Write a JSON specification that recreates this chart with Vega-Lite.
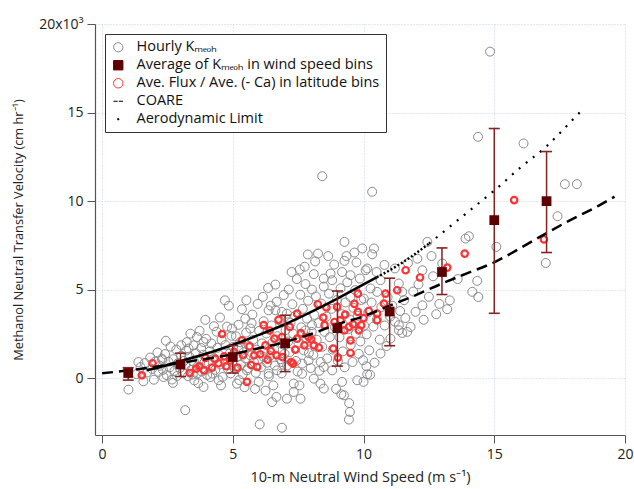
{
  "$schema": "https://vega.github.io/schema/vega-lite/v6.json",
  "autosize": "none",
  "width": 530,
  "height": 411,
  "padding": {"left": 95, "top": 24, "right": 9, "bottom": 54},
  "background": "white",
  "config": {
    "font": "Open Sans",
    "view": {"stroke": null},
    "axis": {
      "labelFont": "Open Sans", "titleFont": "Open Sans",
      "labelFontSize": 14, "titleFontSize": 13.5, "titleFontWeight": "normal",
      "labelColor": "#222", "titleColor": "#222",
      "domainColor": "#555", "tickColor": "#555", "tickSize": 8, "domainWidth": 1.2,
      "gridColor": "#c8c8f5", "gridDash": [1, 2], "gridWidth": 1
    },
    "legend": {"labelFont": "Open Sans", "labelFontSize": 14.5, "labelColor": "#111", "labelLimit": 400}
  },
  "datasets": {
    "gray": [
      {"x":1.01,"y":-0.64},{"x":2.71,"y":-0.26},{"x":2.35,"y":0.07},{"x":2.16,"y":0.36},{"x":2.29,"y":1.11},{"x":3.18,"y":-1.8},{"x":3.31,"y":1.68},{"x":3.5,"y":1.86},{"x":3.63,"y":2.33},{"x":3.88,"y":2.05},{"x":3.63,"y":0.26},{"x":3.88,"y":-0.49},{"x":4.14,"y":0.07},{"x":4.46,"y":-0.11},{"x":4.97,"y":2.81},{"x":5.16,"y":-0.3},{"x":5.22,"y":1.68},{"x":5.48,"y":3.37},{"x":5.52,"y":4.41},{"x":5.54,"y":0.45},{"x":5.67,"y":2.81},{"x":5.99,"y":-0.2},{"x":6.03,"y":-2.6},{"x":6.18,"y":1.2},{"x":6.37,"y":3.84},{"x":6.37,"y":0.26},{"x":6.5,"y":-1.34},{"x":6.63,"y":3.84},{"x":6.63,"y":5.29},{"x":6.67,"y":-1.05},{"x":6.69,"y":0.45},{"x":6.88,"y":3.75},{"x":6.88,"y":0.92},{"x":6.88,"y":-2.79},{"x":7.07,"y":3.65},{"x":7.07,"y":-1.15},{"x":7.14,"y":5.01},{"x":7.33,"y":-0.77},{"x":7.33,"y":-0.3},{"x":7.56,"y":6.14},{"x":7.59,"y":-1.15},{"x":7.65,"y":0.83},{"x":7.65,"y":0.26},{"x":7.78,"y":2.71},{"x":7.84,"y":3.37},{"x":7.87,"y":6.99},{"x":7.9,"y":1.02},{"x":8.03,"y":3.0},{"x":8.03,"y":5.01},{"x":8.1,"y":5.88},{"x":8.1,"y":-0.02},{"x":8.26,"y":7.04},{"x":8.36,"y":0.92},{"x":8.42,"y":11.41},{"x":8.48,"y":5.63},{"x":8.48,"y":0.64},{"x":8.48,"y":-0.58},{"x":8.74,"y":5.91},{"x":8.8,"y":5.54},{"x":8.8,"y":0.45},{"x":9.18,"y":6.0},{"x":9.18,"y":-0.2},{"x":9.25,"y":-0.96},{"x":9.27,"y":7.7},{"x":9.27,"y":6.63},{"x":9.44,"y":-2.33},{"x":9.48,"y":-1.9},{"x":9.5,"y":5.82},{"x":9.5,"y":4.59},{"x":9.73,"y":6.54},{"x":9.76,"y":-0.11},{"x":9.86,"y":5.63},{"x":9.95,"y":7.33},{"x":10.01,"y":4.5},{"x":10.0,"y":-0.2},{"x":10.08,"y":6.1},{"x":10.11,"y":0.68},{"x":10.14,"y":0.23},{"x":10.14,"y":6.2},{"x":10.27,"y":5.07},{"x":10.33,"y":7.0},{"x":10.33,"y":10.53},{"x":10.4,"y":7.33},{"x":10.52,"y":4.88},{"x":10.65,"y":5.54},{"x":10.65,"y":1.4},{"x":11.03,"y":2.24},{"x":11.2,"y":6.2},{"x":11.35,"y":5.35},{"x":11.35,"y":2.71},{"x":11.35,"y":3.0},{"x":11.48,"y":4.88},{"x":11.48,"y":2.56},{"x":11.55,"y":4.41},{"x":11.67,"y":2.62},{"x":11.99,"y":3.75},{"x":12.06,"y":6.75},{"x":12.25,"y":6.1},{"x":12.25,"y":4.12},{"x":12.44,"y":7.7},{"x":12.66,"y":5.76},{"x":12.78,"y":3.62},{"x":13.01,"y":6.48},{"x":13.9,"y":7.89},{"x":14.03,"y":8.02},{"x":14.16,"y":4.88},{"x":14.35,"y":5.5},{"x":14.38,"y":13.63},{"x":14.39,"y":4.59},{"x":14.84,"y":18.44},{"x":15.08,"y":7.42},{"x":16.12,"y":13.26},{"x":16.97,"y":6.51},{"x":17.42,"y":9.15},{"x":17.7,"y":10.96},{"x":18.16,"y":10.96},
      {"x":1.32,"y":0.24},{"x":1.47,"y":0.63},{"x":1.63,"y":0.86},{"x":1.72,"y":0.33},{"x":1.84,"y":1.17},{"x":1.91,"y":0.52},{"x":2.03,"y":0.94},{"x":2.12,"y":1.46},{"x":1.98,"y":-0.08},{"x":1.58,"y":-0.17},{"x":2.21,"y":0.71},{"x":1.39,"y":0.92},
      {"x":2.33,"y":0.48},{"x":2.41,"y":1.37},{"x":2.47,"y":0.18},{"x":2.54,"y":0.93},{"x":2.62,"y":1.79},{"x":2.58,"y":0.61},{"x":2.73,"y":1.08},{"x":2.77,"y":0.42},{"x":2.84,"y":1.62},{"x":2.91,"y":0.87},{"x":2.87,"y":0.13},{"x":3.02,"y":1.27},{"x":2.97,"y":0.58},{"x":2.44,"y":2.12},{"x":2.68,"y":-0.07},{"x":2.31,"y":1.03},
      {"x":3.08,"y":0.32},{"x":3.13,"y":0.98},{"x":3.22,"y":1.57},{"x":3.18,"y":0.73},{"x":3.29,"y":0.12},{"x":3.34,"y":1.22},{"x":3.41,"y":0.47},{"x":3.38,"y":2.52},{"x":3.52,"y":0.93},{"x":3.47,"y":0.21},{"x":3.58,"y":1.42},{"x":3.62,"y":0.63},{"x":3.71,"y":1.02},{"x":3.68,"y":-0.28},{"x":3.79,"y":1.71},{"x":3.82,"y":0.38},{"x":3.91,"y":0.88},{"x":3.87,"y":1.33},{"x":4.02,"y":0.19},{"x":3.98,"y":2.23},{"x":3.24,"y":2.04},{"x":3.53,"y":-0.12},{"x":3.73,"y":2.68},{"x":3.95,"y":3.3},{"x":3.03,"y":1.87},
      {"x":4.08,"y":0.82},{"x":4.12,"y":1.53},{"x":4.22,"y":0.27},{"x":4.18,"y":1.97},{"x":4.29,"y":1.13},{"x":4.33,"y":0.48},{"x":4.41,"y":1.72},{"x":4.38,"y":2.63},{"x":4.52,"y":0.78},{"x":4.48,"y":1.33},{"x":4.61,"y":0.08},{"x":4.57,"y":2.18},{"x":4.69,"y":1.04},{"x":4.72,"y":1.88},{"x":4.81,"y":0.53},{"x":4.78,"y":2.92},{"x":4.89,"y":1.41},{"x":4.92,"y":0.28},{"x":5.01,"y":1.78},{"x":4.98,"y":0.92},{"x":4.51,"y":3.43},{"x":4.28,"y":2.94},{"x":4.85,"y":4.1},{"x":4.7,"y":4.4},{"x":4.55,"y":-0.4},{"x":4.95,"y":2.4},
      {"x":5.08,"y":0.52},{"x":5.12,"y":2.37},{"x":5.19,"y":1.22},{"x":5.31,"y":0.78},{"x":5.28,"y":2.03},{"x":5.42,"y":1.48},{"x":5.38,"y":0.23},{"x":5.51,"y":2.58},{"x":5.48,"y":1.12},{"x":5.62,"y":1.83},{"x":5.58,"y":0.57},{"x":5.69,"y":1.28},{"x":5.72,"y":3.12},{"x":5.81,"y":0.92},{"x":5.78,"y":2.17},{"x":5.91,"y":1.62},{"x":5.88,"y":0.31},{"x":6.01,"y":2.68},{"x":5.97,"y":1.03},{"x":5.22,"y":3.02},{"x":5.35,"y":3.9},{"x":5.75,"y":3.6},{"x":5.95,"y":4.2},{"x":5.45,"y":-0.5},{"x":5.85,"y":-0.6},{"x":5.25,"y":-0.1},
      {"x":6.08,"y":0.62},{"x":6.12,"y":1.97},{"x":6.21,"y":1.52},{"x":6.18,"y":3.22},{"x":6.31,"y":0.88},{"x":6.28,"y":2.53},{"x":6.42,"y":1.27},{"x":6.38,"y":0.12},{"x":6.52,"y":2.02},{"x":6.48,"y":2.98},{"x":6.61,"y":0.72},{"x":6.58,"y":1.63},{"x":6.71,"y":2.38},{"x":6.68,"y":4.32},{"x":6.82,"y":1.08},{"x":6.78,"y":3.28},{"x":6.91,"y":1.92},{"x":6.87,"y":0.28},{"x":7.02,"y":2.72},{"x":6.98,"y":1.38},{"x":6.15,"y":4.6},{"x":6.45,"y":4.1},{"x":6.55,"y":-0.4},{"x":6.25,"y":-0.7},{"x":6.95,"y":4.7},{"x":6.35,"y":5.1},
      {"x":7.08,"y":0.72},{"x":7.12,"y":2.08},{"x":7.21,"y":3.13},{"x":7.18,"y":1.48},{"x":7.31,"y":2.52},{"x":7.28,"y":4.18},{"x":7.42,"y":0.98},{"x":7.38,"y":3.52},{"x":7.51,"y":2.02},{"x":7.48,"y":0.38},{"x":7.62,"y":2.88},{"x":7.58,"y":4.72},{"x":7.71,"y":1.58},{"x":7.68,"y":3.92},{"x":7.82,"y":2.28},{"x":7.78,"y":5.32},{"x":7.91,"y":1.42},{"x":7.88,"y":4.38},{"x":8.02,"y":2.62},{"x":7.98,"y":0.58},{"x":7.45,"y":5.6},{"x":7.25,"y":6.0},{"x":7.75,"y":6.3},{"x":7.55,"y":-0.4},
      {"x":8.08,"y":1.32},{"x":8.12,"y":3.58},{"x":8.21,"y":2.18},{"x":8.18,"y":4.62},{"x":8.31,"y":0.42},{"x":8.28,"y":3.12},{"x":8.42,"y":1.78},{"x":8.38,"y":4.22},{"x":8.51,"y":2.62},{"x":8.48,"y":5.18},{"x":8.61,"y":1.12},{"x":8.58,"y":3.48},{"x":8.71,"y":2.32},{"x":8.68,"y":4.78},{"x":8.82,"y":1.62},{"x":8.78,"y":3.92},{"x":8.91,"y":2.88},{"x":8.88,"y":6.42},{"x":9.02,"y":0.98},{"x":8.98,"y":4.42},{"x":8.15,"y":6.6},{"x":8.65,"y":6.9},{"x":8.35,"y":-0.3},{"x":8.95,"y":-0.6},
      {"x":9.08,"y":2.32},{"x":9.12,"y":5.08},{"x":9.21,"y":1.52},{"x":9.18,"y":3.62},{"x":9.31,"y":4.28},{"x":9.28,"y":0.62},{"x":9.42,"y":2.78},{"x":9.38,"y":5.42},{"x":9.51,"y":1.88},{"x":9.48,"y":3.32},{"x":9.61,"y":3.98},{"x":9.58,"y":0.92},{"x":9.71,"y":2.52},{"x":9.68,"y":4.98},{"x":9.82,"y":1.38},{"x":9.78,"y":3.52},{"x":9.91,"y":4.42},{"x":9.88,"y":2.08},{"x":10.02,"y":2.98},{"x":9.98,"y":1.02},{"x":9.35,"y":6.9},{"x":9.65,"y":7.1},{"x":9.45,"y":-1.4},{"x":9.15,"y":-0.9},
      {"x":10.12,"y":2.48},{"x":10.18,"y":3.72},{"x":10.22,"y":1.58},{"x":10.31,"y":4.28},{"x":10.38,"y":2.92},{"x":10.42,"y":0.88},{"x":10.51,"y":3.32},{"x":10.62,"y":2.18},{"x":10.68,"y":4.02},{"x":10.81,"y":2.98},{"x":10.88,"y":1.82},{"x":10.92,"y":4.58},{"x":11.02,"y":3.48},{"x":10.5,"y":6.0},{"x":10.8,"y":6.4},{"x":10.25,"y":0.2},
      {"x":11.1,"y":4.1},{"x":11.2,"y":3.2},{"x":11.4,"y":3.8},{"x":11.6,"y":3.4},{"x":11.8,"y":2.9},{"x":11.9,"y":4.9},{"x":11.7,"y":6.5},
      {"x":12.1,"y":5.3},{"x":12.3,"y":3.3},{"x":12.5,"y":4.6},{"x":12.9,"y":4.2},{"x":12.6,"y":6.9},
      {"x":13.3,"y":4.4},{"x":13.6,"y":5.6},{"x":13.2,"y":3.9}
    ],
    "red": [
      {"x":1.52,"y":0.17},{"x":1.93,"y":0.85},{"x":3.35,"y":0.3},{"x":3.73,"y":0.68},{"x":3.95,"y":1.15},{"x":4.2,"y":0.6},{"x":4.33,"y":1.1},{"x":4.59,"y":2.5},{"x":4.67,"y":1.24},{"x":4.75,"y":0.68},{"x":5.18,"y":0.6},{"x":5.35,"y":2.15},{"x":5.39,"y":1.3},{"x":5.54,"y":-0.2},{"x":5.64,"y":1.8},{"x":5.82,"y":1.3},{"x":5.93,"y":0.64},{"x":6.05,"y":1.36},{"x":6.18,"y":3.0},{"x":6.25,"y":1.86},{"x":6.33,"y":1.05},{"x":6.41,"y":2.7},{"x":6.59,"y":2.24},{"x":6.67,"y":1.3},{"x":6.75,"y":3.3},{"x":6.88,"y":2.33},{"x":7.01,"y":1.96},{"x":7.18,"y":2.9},{"x":7.23,"y":0.92},{"x":7.3,"y":0.83},{"x":7.46,"y":3.65},{"x":7.39,"y":1.62},{"x":7.46,"y":2.24},{"x":7.74,"y":1.86},{"x":7.9,"y":2.33},{"x":8.1,"y":1.86},{"x":8.25,"y":4.18},{"x":8.29,"y":1.73},{"x":8.46,"y":3.43},{"x":8.51,"y":3.0},{"x":8.58,"y":4.0},{"x":8.84,"y":1.68},{"x":8.99,"y":4.03},{"x":9.02,"y":1.17},{"x":8.89,"y":3.18},{"x":9.12,"y":3.28},{"x":9.27,"y":2.71},{"x":9.44,"y":2.9},{"x":9.5,"y":1.43},{"x":9.5,"y":2.14},{"x":9.6,"y":3.05},{"x":9.78,"y":4.78},{"x":9.78,"y":3.75},{"x":9.82,"y":2.71},{"x":9.91,"y":3.0},{"x":10.52,"y":3.65},{"x":10.52,"y":3.28},{"x":10.78,"y":4.22},{"x":10.84,"y":4.78},{"x":11.29,"y":4.97},{"x":11.61,"y":6.1},{"x":12.16,"y":5.69},{"x":13.2,"y":6.25},{"x":13.87,"y":7.04},{"x":15.76,"y":10.06},{"x":16.9,"y":7.84},
      {"x":3.6,"y":0.55},{"x":3.9,"y":0.45},{"x":4.45,"y":0.85},{"x":4.9,"y":1.0},{"x":5.05,"y":1.5},{"x":5.7,"y":0.75},{"x":6.45,"y":1.55},{"x":6.9,"y":1.2},{"x":7.6,"y":2.55},{"x":8.0,"y":2.2},{"x":9.3,"y":3.6},{"x":9.65,"y":4.2},{"x":10.2,"y":3.8},{"x":10.0,"y":3.4}
    ],
    "bins": [
      {"x":1,"y":0.3,"lo":-0.1,"hi":0.6},
      {"x":3,"y":0.78,"lo":0.1,"hi":1.42},
      {"x":5,"y":1.2,"lo":0.3,"hi":1.85},
      {"x":7,"y":1.98,"lo":0.38,"hi":3.56},
      {"x":9,"y":2.83,"lo":0.69,"hi":4.93},
      {"x":11,"y":3.77,"lo":1.84,"hi":5.65},
      {"x":13,"y":6.0,"lo":4.73,"hi":7.36},
      {"x":15,"y":8.93,"lo":3.67,"hi":14.1},
      {"x":17,"y":10.0,"lo":7.1,"hi":12.8}
    ],
    "coare": [
      {"x":0,"y":0.28},{"x":1,"y":0.45},{"x":2,"y":0.64},{"x":3,"y":0.87},{"x":4,"y":1.1},{"x":5,"y":1.36},{"x":6,"y":1.7},{"x":7,"y":2.05},{"x":8,"y":2.5},{"x":9,"y":3.05},{"x":10,"y":3.5},{"x":11,"y":4.1},{"x":12,"y":4.7},{"x":13,"y":5.35},{"x":14,"y":5.95},{"x":15,"y":6.55},{"x":16,"y":7.35},{"x":17,"y":8.2},{"x":18,"y":9.0},{"x":19,"y":9.75},{"x":19.6,"y":10.25}
    ],
    "aero": [
      {"p":1,"x":1.7,"y":0.45},{"p":1,"x":2,"y":0.55},{"p":1,"x":3,"y":0.97},{"p":1,"x":4,"y":1.4},{"p":1,"x":5,"y":1.9},{"p":1,"x":6,"y":2.45},{"p":1,"x":7,"y":3.05},{"p":1,"x":8,"y":3.75},{"p":1,"x":9,"y":4.5},{"p":1,"x":10,"y":5.3},{"p":1,"x":10.5,"y":5.7},
      {"p":2,"x":10.5,"y":5.7},{"p":2,"x":11,"y":6.1},{"p":2,"x":12,"y":7.05},{"p":2,"x":12.5,"y":7.6},
      {"p":3,"x":12.5,"y":7.6},{"p":3,"x":13,"y":8.2},{"p":3,"x":14,"y":9.4},{"p":3,"x":15,"y":10.6},{"p":3,"x":16,"y":11.9},{"p":3,"x":17,"y":13.1},{"p":3,"x":18,"y":14.6},{"p":3,"x":18.3,"y":15.05}
    ],
    "legend": [
      {"s":"a"},{"s":"b"},{"s":"c"},{"s":"d"},{"s":"e"}
    ]
  },
  "encoding": {
    "x": {"field": "x", "type": "quantitative", "scale": {"domain": [-0.27, 20], "nice": false, "zero": false},
      "axis": {"values": [0, 5, 10, 15, 20], "title": "10-m Neutral Wind Speed (m s⁻¹)", "titleFontSize": 14.5, "labelPadding": 4, "titlePadding": 9, "grid": true, "labelFlush": false}},
    "y": {"field": "y", "type": "quantitative", "scale": {"domain": [-3.2, 20], "nice": false, "zero": false},
      "axis": {"values": [0, 5, 10, 15, 20], "title": "Methanol Neutral Transfer Velocity (cm hr⁻¹)", "titleFontSize": 12.8, "labelPadding": 4, "titlePadding": 13, "grid": true, "labelFlush": false,
        "labelExpr": "datum.value == 20 ? '20x10³' : datum.label"}}
  },
  "layer": [
    {
      "data": {"name": "gray"},
      "mark": {"type": "point", "shape": "circle", "filled": false, "stroke": "#8a8a8a", "strokeWidth": 1, "size": 80, "opacity": 1},
      "encoding": {}
    },
    {
      "data": {"name": "red"},
      "mark": {"type": "point", "shape": "circle", "filled": false, "stroke": "#ff3333", "strokeWidth": 2.2, "size": 42, "opacity": 1},
      "encoding": {}
    },
    {
      "data": {"name": "coare"},
      "mark": {"type": "line", "color": "black", "strokeWidth": 2.5, "strokeDash": [11, 6], "interpolate": "monotone"},
      "encoding": {}
    },
    {
      "data": {"name": "aero"},
      "transform": [{"filter": "datum.p == 1"}],
      "mark": {"type": "line", "color": "black", "strokeWidth": 2.6, "interpolate": "monotone"},
      "encoding": {}
    },
    {
      "data": {"name": "aero"},
      "transform": [{"filter": "datum.p == 2"}],
      "mark": {"type": "line", "color": "black", "strokeWidth": 2.4, "strokeDash": [2, 2], "interpolate": "monotone"},
      "encoding": {}
    },
    {
      "data": {"name": "aero"},
      "transform": [{"filter": "datum.p == 3"}],
      "mark": {"type": "line", "color": "black", "strokeWidth": 2.2, "strokeDash": [2, 7], "interpolate": "monotone"},
      "encoding": {}
    },
    {
      "data": {"name": "bins"},
      "mark": {"type": "rule", "color": "#862222", "strokeWidth": 1.5},
      "encoding": {"y": {"field": "lo", "type": "quantitative"}, "y2": {"field": "hi"}}
    },
    {
      "data": {"name": "bins"},
      "mark": {"type": "tick", "orient": "horizontal", "color": "#862222", "size": 11, "thickness": 1.6, "opacity": 1},
      "encoding": {"y": {"field": "lo", "type": "quantitative"}}
    },
    {
      "data": {"name": "bins"},
      "mark": {"type": "tick", "orient": "horizontal", "color": "#862222", "size": 11, "thickness": 1.6, "opacity": 1},
      "encoding": {"y": {"field": "hi", "type": "quantitative"}}
    },
    {
      "data": {"name": "bins"},
      "mark": {"type": "square", "color": "#5e0000", "size": 95, "opacity": 1, "filled": true},
      "encoding": {}
    },
    {
      "data": {"name": "legend"},
      "mark": {"type": "point", "opacity": 1, "filled": true, "clip": true},
      "encoding": {
        "x": {"datum": -5, "type": "quantitative"},
        "y": {"datum": -10, "type": "quantitative"},
        "shape": {"field": "s", "type": "nominal",
          "scale": {"domain": ["a", "b", "c", "d", "e"], "range": ["circle", "square", "circle", "M-1,0H-0.12M0.12,0H1", "M-0.12,-0.12H0.12V0.12H-0.12Z"]},
          "legend": {
            "title": null, "orient": "top-left", "offset": 10, "padding": 6,
            "strokeColor": "#333", "fillColor": "white", "rowPadding": 3, "labelOffset": 11,
            "symbolOpacity": 1,
            "labelExpr": "{'a': 'Hourly Kₘₑₒₕ', 'b': 'Average of Kₘₑₒₕ  in wind speed bins', 'c': 'Ave. Flux / Ave. (- Ca) in latitude bins', 'd': 'COARE', 'e': 'Aerodynamic Limit'}[datum.value]"
          }
        },
        "fill": {"field": "s", "type": "nominal",
          "scale": {"domain": ["a", "b", "c", "d", "e"], "range": ["rgba(255,255,255,0)", "#5e0000", "rgba(255,255,255,0)", "rgba(255,255,255,0)", "#000000"]}},
        "stroke": {"field": "s", "type": "nominal",
          "scale": {"domain": ["a", "b", "c", "d", "e"], "range": ["#8a8a8a", "#5e0000", "#ff3333", "black", "black"]}},
        "strokeWidth": {"field": "s", "type": "nominal",
          "scale": {"domain": ["a", "b", "c", "d", "e"], "range": [1, 1, 2.4, 2.6, 1]}},
        "size": {"field": "s", "type": "nominal",
          "scale": {"domain": ["a", "b", "c", "d", "e"], "range": [85, 95, 50, 225, 90]}}
      }
    }
  ]
}
